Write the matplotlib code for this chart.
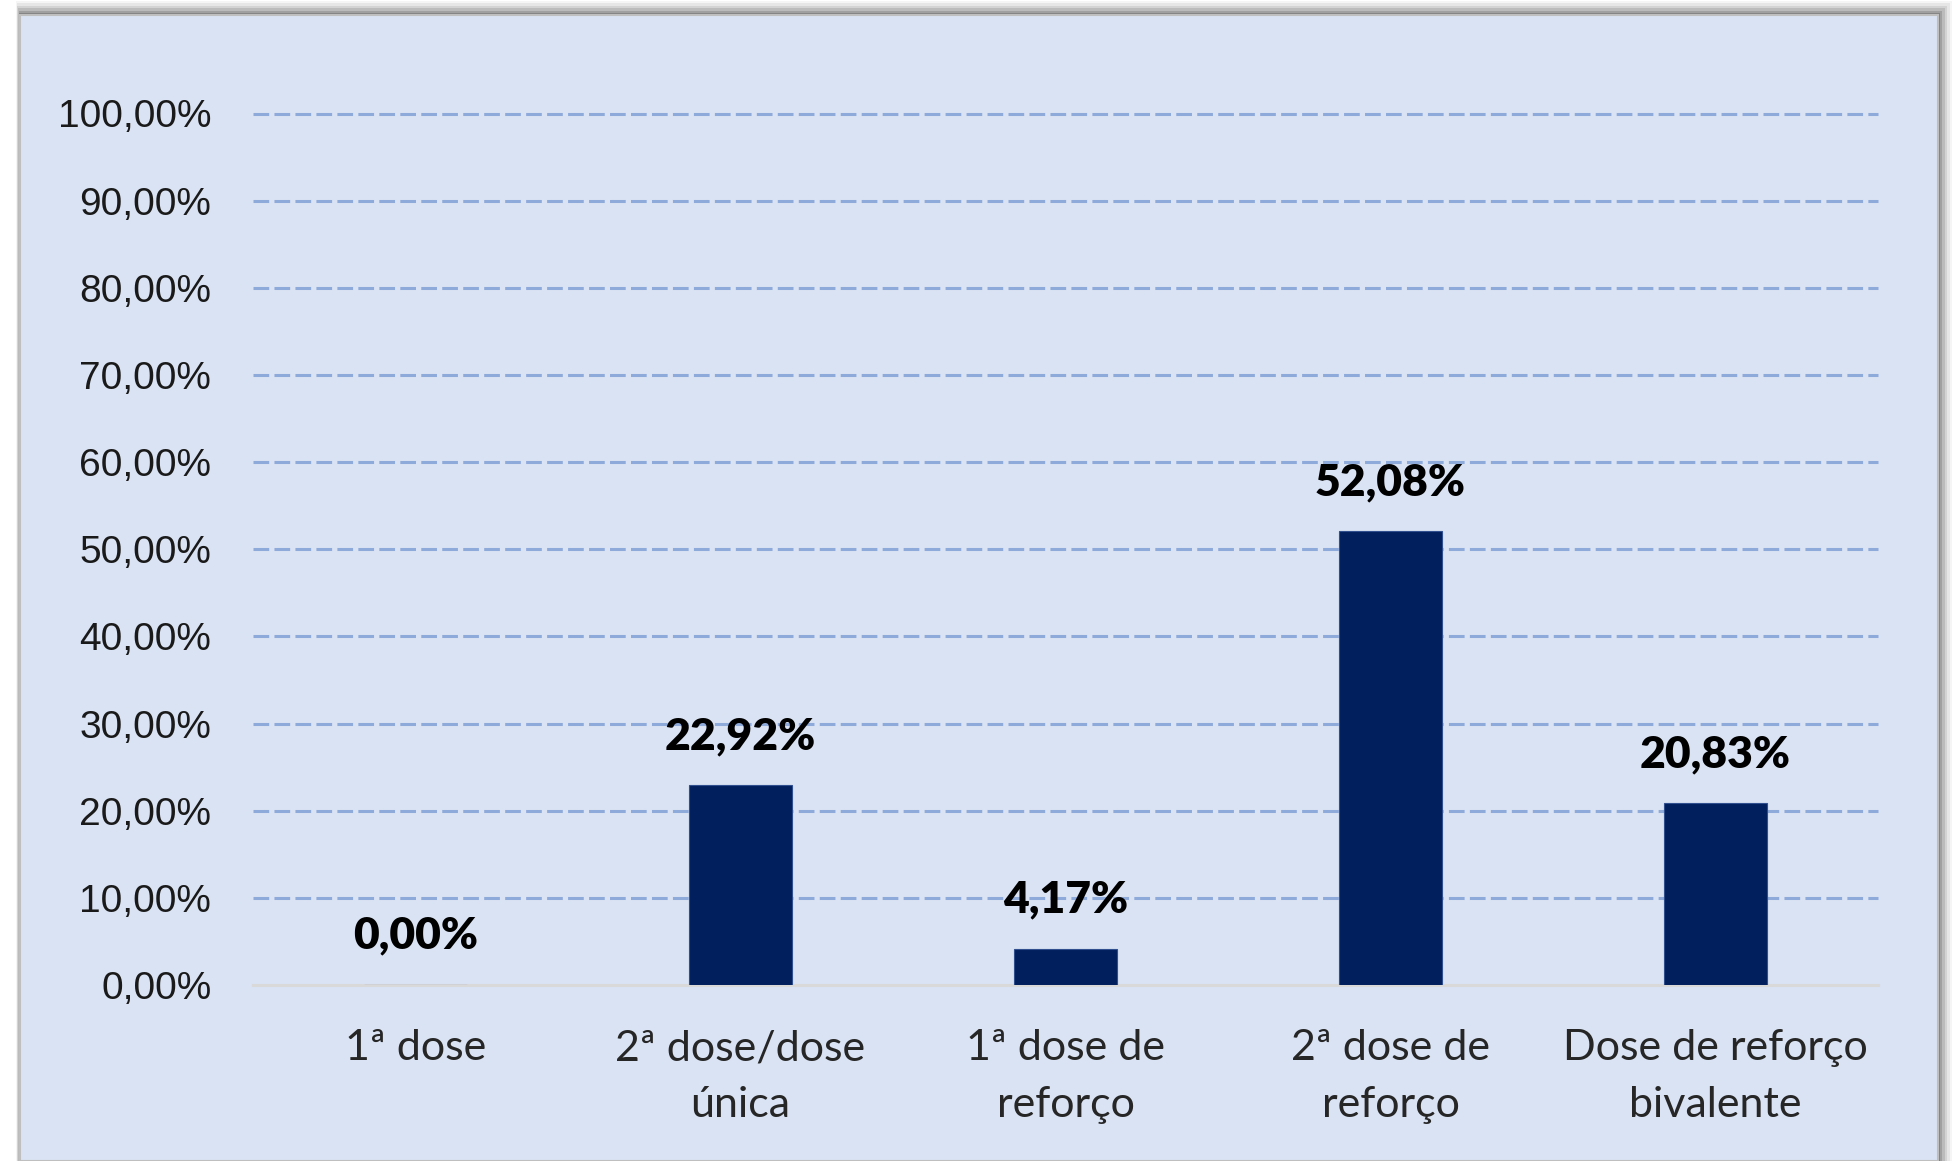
import matplotlib
matplotlib.use("Agg")
import matplotlib.pyplot as plt
from matplotlib.patches import Rectangle

# ---- data ----
categories = ["1ª dose", "2ª dose/dose\núnica", "1ª dose de\nreforço", "2ª dose de\nreforço", "Dose de reforço\nbivalente"]
values = [0.00, 22.92, 4.17, 52.08, 20.83]
value_labels = ["0,00%", "22,92%", "4,17%", "52,08%", "20,83%"]
y_ticks = [0, 10, 20, 30, 40, 50, 60, 70, 80, 90, 100]
y_tick_labels = ["0,00%", "10,00%", "20,00%", "30,00%", "40,00%", "50,00%",
                 "60,00%", "70,00%", "80,00%", "90,00%", "100,00%"]

W, H = 1956, 1161
fig = plt.figure(figsize=(W / 100, H / 100), dpi=100)
fig.patch.set_facecolor("white")

# shadow + panel
px = lambda v: v / W
py = lambda v: v / H
for i, a in enumerate([0.04, 0.06, 0.08, 0.11, 0.14, 0.18]):
    d = 14 - i * 2.4
    fig.patches.append(Rectangle((px(20 - d * 0.3), 0), px(1918 + d * 1.3), py(1146 + d),
                                 transform=fig.transFigure, facecolor="#000000",
                                 alpha=a, edgecolor="none", zorder=-3))
fig.patches.append(Rectangle((px(20), 0), px(1918), py(1146), transform=fig.transFigure,
                             facecolor="#dae3f3", edgecolor="#bfbfbf", lw=1.5, zorder=-2))

ax = fig.add_axes([px(253), 1 - py(985), px(1878 - 253), py(985 - 113.5)])
ax.set_facecolor("none")

x = list(range(len(categories)))
ax.bar(x, values, width=0.314, color="#001f5c", edgecolor="#2f4f8f", linewidth=0.8, zorder=3)

for xi, v, lab in zip(x, values, value_labels):
    ax.annotate(lab, (xi, v), xytext=(0, 26), textcoords="offset points",
                ha="center", va="baseline", fontsize=32, fontweight="heavy",
                family=["Lato", "DejaVu Sans"], color="#000000", zorder=4)

ax.set_xlim(-0.5, len(categories) - 0.5)
ax.set_ylim(0, 100)
ax.set_yticks(y_ticks)
ax.set_yticklabels(y_tick_labels, family=["Liberation Sans", "DejaVu Sans"],
                   fontsize=28, color="#1a1a1a")
ax.set_xticks(x)
ax.set_xticklabels(categories, family=["Lato", "DejaVu Sans"], fontsize=31,
                   color="#262626", linespacing=1.6, va="top")
ax.tick_params(axis="y", length=0, pad=30)
ax.tick_params(axis="x", length=0, pad=32)

lw = 2.2
ax.grid(axis="y", color="#8eaadb", linewidth=lw, linestyle=(0, (11.3 / lw, 3.8 / lw)), zorder=1)
ax.set_axisbelow(True)
for gl in ax.get_ygridlines():
    gl.set_clip_on(False)
ax.get_ygridlines()[0].set_visible(False)

for s in ["top", "right", "left"]:
    ax.spines[s].set_visible(False)
ax.spines["bottom"].set_color("#d9d9d9")
ax.spines["bottom"].set_linewidth(2.2)

fig.savefig("out.png", dpi=100)
